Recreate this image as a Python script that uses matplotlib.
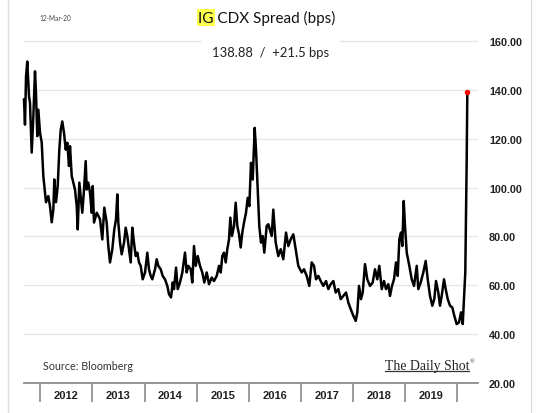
import matplotlib
matplotlib.use("Agg")
import matplotlib.pyplot as plt
from matplotlib.patches import Rectangle
from matplotlib.lines import Line2D

# ---------------- data ----------------
dates = [
    2011.687, 2011.706, 2011.726, 2011.750, 2011.783, 2011.802, 2011.835, 2011.866,
    2011.898, 2011.917, 2011.942, 2011.962, 2011.994, 2012.027, 2012.058, 2012.090,
    2012.109, 2012.154, 2012.186, 2012.219, 2012.250, 2012.269, 2012.301, 2012.334,
    2012.365, 2012.392, 2012.422, 2012.455, 2012.488, 2012.518, 2012.551, 2012.570,
    2012.603, 2012.633, 2012.666, 2012.699, 2012.718, 2012.749, 2012.775, 2012.806,
    2012.839, 2012.871, 2012.891, 2012.921, 2012.954, 2012.987, 2013.006, 2013.031,
    2013.083, 2013.132, 2013.146, 2013.190, 2013.228, 2013.274, 2013.305, 2013.338,
    2013.382, 2013.420, 2013.453, 2013.478, 2013.497, 2013.530, 2013.562, 2013.607,
    2013.639, 2013.670, 2013.702, 2013.735, 2013.766, 2013.798, 2013.831, 2013.862,
    2013.894, 2013.927, 2013.965, 2014.010, 2014.054, 2014.086, 2014.119, 2014.150,
    2014.202, 2014.234, 2014.265, 2014.311, 2014.349, 2014.393, 2014.438, 2014.470,
    2014.509, 2014.541, 2014.566, 2014.605, 2014.637, 2014.681, 2014.726, 2014.777,
    2014.810, 2014.841, 2014.887, 2014.917, 2014.950, 2014.983, 2015.021, 2015.065,
    2015.109, 2015.148, 2015.194, 2015.238, 2015.290, 2015.334, 2015.386, 2015.430,
    2015.463, 2015.493, 2015.526, 2015.559, 2015.589, 2015.622, 2015.647, 2015.679,
    2015.718, 2015.750, 2015.781, 2015.814, 2015.846, 2015.877, 2015.910, 2015.948,
    2015.981, 2016.012, 2016.044, 2016.077, 2016.115, 2016.140, 2016.173, 2016.203,
    2016.236, 2016.269, 2016.299, 2016.345, 2016.376, 2016.441, 2016.472, 2016.518,
    2016.568, 2016.614, 2016.664, 2016.716, 2016.760, 2016.806, 2016.856, 2016.902,
    2016.952, 2017.017, 2017.061, 2017.113, 2017.163, 2017.209, 2017.253, 2017.292,
    2017.336, 2017.382, 2017.432, 2017.484, 2017.528, 2017.574, 2017.624, 2017.670,
    2017.720, 2017.766, 2017.816, 2017.868, 2017.912, 2017.958, 2018.008, 2018.054,
    2018.085, 2018.117, 2018.155, 2018.188, 2018.232, 2018.276, 2018.328, 2018.380,
    2018.424, 2018.468, 2018.507, 2018.553, 2018.597, 2018.635, 2018.680, 2018.712,
    2018.750, 2018.789, 2018.827, 2018.860, 2018.891, 2018.923, 2018.948, 2018.975,
    2019.000, 2019.033, 2019.083, 2019.129, 2019.173, 2019.225, 2019.255, 2019.301,
    2019.351, 2019.397, 2019.436, 2019.480, 2019.524, 2019.562, 2019.595, 2019.639,
    2019.672, 2019.704, 2019.749, 2019.781, 2019.820, 2019.864, 2019.908, 2019.946,
    2019.992, 2020.036, 2020.075, 2020.108, 2020.132, 2020.157, 2020.184, 2020.196,
]
spread = [
    136.0, 125.7, 145.4, 151.5, 137.3, 134.7, 114.3, 129.0,
    147.5, 138.7, 121.0, 131.8, 122.5, 118.4, 104.7, 98.0,
    94.0, 96.5, 92.4, 85.8, 91.0, 103.3, 94.0, 100.6,
    115.5, 123.7, 127.0, 122.3, 115.5, 118.3, 108.8, 116.9,
    104.7, 102.0, 99.2, 92.4, 82.9, 102.0, 96.5, 89.7,
    99.2, 110.8, 99.2, 102.0, 97.9, 89.7, 100.6, 85.7,
    89.7, 87.7, 87.0, 78.8, 91.8, 85.7, 76.1, 69.4,
    74.8, 82.9, 87.0, 97.2, 85.7, 77.5, 72.7, 77.5,
    83.6, 80.2, 74.8, 69.4, 83.6, 77.5, 72.0, 73.4,
    69.4, 68.0, 62.5, 65.3, 73.4, 66.6, 63.9, 62.5,
    66.6, 70.7, 68.0, 66.6, 63.9, 62.5, 59.8, 56.4,
    55.1, 61.2, 58.5, 67.3, 58.5, 61.2, 65.3, 73.4,
    65.3, 68.0, 66.6, 61.2, 76.1, 68.0, 72.0, 68.0,
    65.3, 61.2, 65.3, 60.5, 63.2, 61.8, 63.9, 68.0,
    65.3, 72.0, 73.4, 69.4, 74.8, 78.8, 87.7, 80.2,
    84.3, 93.8, 84.3, 80.9, 75.5, 81.6, 85.7, 89.7,
    95.8, 92.4, 110.1, 103.3, 124.4, 115.5, 99.2, 84.3,
    77.5, 80.2, 73.4, 84.3, 85.0, 80.2, 91.0, 77.5,
    72.0, 74.8, 70.7, 81.6, 76.1, 78.8, 80.9, 74.8,
    68.0, 65.3, 66.6, 63.9, 59.8, 69.4, 68.0, 62.5,
    63.9, 61.8, 59.8, 61.8, 58.5, 60.5, 61.8, 57.1,
    58.5, 54.4, 55.7, 57.1, 53.0, 50.3, 47.6, 45.5,
    49.0, 59.8, 54.4, 57.1, 68.7, 62.5, 59.8, 61.2,
    66.6, 62.5, 68.0, 58.5, 61.8, 58.5, 60.5, 55.7,
    59.8, 62.5, 69.4, 63.9, 78.8, 81.6, 76.1, 94.5,
    84.3, 73.4, 68.0, 62.5, 59.8, 68.0, 58.5, 61.2,
    65.3, 70.0, 62.5, 55.7, 51.7, 54.4, 61.8, 57.1,
    51.7, 55.7, 62.5, 58.5, 54.4, 51.7, 51.0, 47.6,
    44.2, 44.9, 49.0, 44.2, 54.4, 65.3, 111.5, 138.88,
]
year_bounds = [2012, 2013, 2014, 2015, 2016, 2017, 2018, 2019, 2020]
year_labels = ["2012", "2013", "2014", "2015", "2016", "2017", "2018", "2019"]
y_ticks = [20, 40, 60, 80, 100, 120, 140, 160]
last_value = 138.88
last_change = 21.5
title_hl = "IG"
title_rest = " CDX Spread (bps)"
date_stamp = "12-Mar-20"
source = "Source: Bloomberg"
brand = "The Daily Shot"

# ---------------- figure ----------------
W, H = 536, 414
fig = plt.figure(figsize=(W / 100, H / 100), dpi=100)
fig.patch.set_facecolor("white")


def fx(px):
    return px / W


def fy(py):
    return 1 - py / H


ax = fig.add_axes([fx(24), (H - 384.3) / H, 454 / W, 354.8 / H])
ax.set_xlim(2011.687, 2020.401)
ax.set_ylim(20, 165)

ax.plot(dates, spread, color="black", lw=1.8, solid_joinstyle="round",
        clip_on=False, zorder=3)
ax.plot(dates[-1], spread[-1], "o", color="#ff0000", ms=4.0, mec="none",
        zorder=4, clip_on=False)

for s in ["top", "left", "right"]:
    ax.spines[s].set_visible(False)
ax.spines["bottom"].set_color("#8c8c8c")
ax.spines["bottom"].set_linewidth(1.3)

ax.set_yticks(y_ticks)
ax.set_yticklabels([f"{v:.2f}" for v in y_ticks])
ax.yaxis.tick_right()
ax.tick_params(axis="y", length=0, pad=7.9, labelsize=7.8, labelcolor="#222222")
for lab in ax.get_yticklabels():
    lab.set_fontfamily("Liberation Sans")
    lab.set_fontweight("bold")
ax.yaxis.grid(True, color="#e6e6e6", lw=1.0)
ax.set_axisbelow(True)

ax.set_xticks(year_bounds)
ax.set_xticklabels([""] * len(year_bounds))
ax.tick_params(axis="x", which="major", length=13.5, width=1.1,
               color="#7f7f7f", direction="out")
ax.set_xticks([y + 0.5 for y in year_bounds[:-1]], minor=True)
ax.set_xticklabels(year_labels, minor=True)
ax.tick_params(axis="x", which="minor", length=0, pad=4.6, labelsize=8,
               labelcolor="#222222")
for lab in ax.get_xticklabels(minor=True):
    lab.set_fontfamily("Liberation Sans")
    lab.set_fontweight("bold")

# ---------------- texts ----------------
r = fig.canvas.get_renderer()


def fit(t, target_px):
    bb = t.get_window_extent(renderer=r)
    t.set_fontsize(t.get_fontsize() * target_px / bb.width)


# title
title = fig.text(fx(266.7), fy(18.8), title_hl + title_rest, ha="center",
                 va="center", fontsize=11, family="Lato", color="#111111",
                 zorder=5)
fit(title, 137)
tb = title.get_window_extent(renderer=r)
tmp = fig.text(0, 0, title_hl, fontsize=title.get_fontsize(), family="Lato")
ig_w = tmp.get_window_extent(renderer=r).width
tmp.remove()
fig.patches.append(Rectangle((tb.x0 - 1.5, H - 27), ig_w + 3, 17,
                             transform=None, facecolor="#ffff4d",
                             edgecolor="none", zorder=1))

# date stamp
ds = fig.text(fx(39.3), fy(18.8), date_stamp, ha="left", va="center",
              fontsize=5, family="Lato", color="#444444")
fit(ds, 32)

# subtitle
sub = fig.text(fx(271), fy(53), f"{last_value:.2f}  /  +{last_change:.1f} bps",
               ha="center", va="center", fontsize=10, family="Lato",
               color="#222222", zorder=5,
               bbox=dict(boxstyle="square,pad=0.8", facecolor="white",
                         edgecolor="none"))
fit(sub, 117)

# source
src = fig.text(fx(42.7), fy(366.7), source, ha="left", va="center",
               fontsize=7.5, family="Lato", color="#333333", zorder=5)
fit(src, 89)

# brand
br = fig.text(fx(384.6), fy(366.5), brand, ha="left", va="center",
              fontsize=10, family="Liberation Serif", color="#222222",
              zorder=5)
fit(br, 84)
bb = br.get_window_extent(renderer=r)
fig.lines.append(Line2D([bb.x0, bb.x1], [H - 372.3, H - 372.3],
                        transform=None, color="#333333", lw=0.9))
fig.text(bb.x1 + 1, H - 362, "\u00ae", transform=None, ha="left",
         va="center", fontsize=4.5, family="Liberation Serif",
         color="#333333")

# panel borders
for xb in (8.3, 530.7):
    fig.lines.append(Line2D([fx(xb), fx(xb)], [0, 1], transform=fig.transFigure,
                            color="#dddddd", lw=1.0))

fig.savefig("out.png", dpi=100)
